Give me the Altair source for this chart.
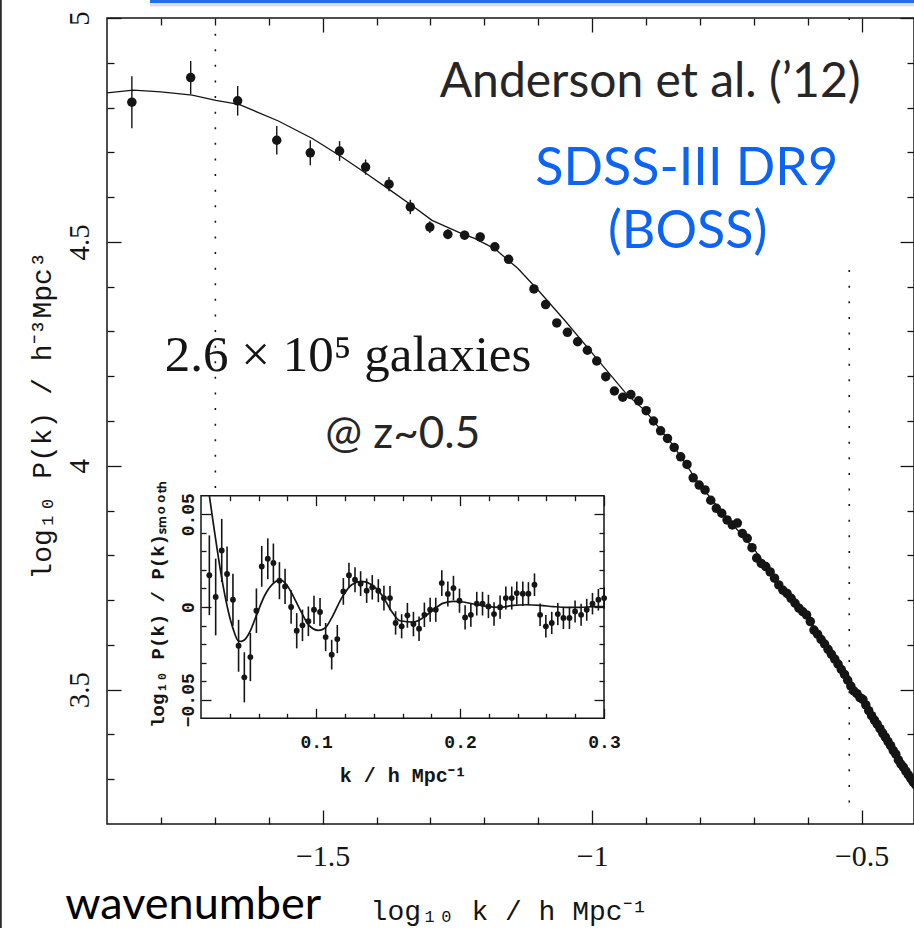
import altair as alt
import numpy as np
import pandas as pd

# ---------------- main panel data (log10 P(k) vs log10 k) ----------------
main_k = [0.014, 0.018, 0.022, 0.026, 0.030, 0.034, 0.038, 0.042, 0.046, 0.050,
          0.054, 0.058, 0.062, 0.066, 0.070, 0.078, 0.082, 0.086, 0.090, 0.094,
          0.098, 0.102, 0.106, 0.110, 0.114, 0.118, 0.122, 0.126, 0.130, 0.134,
          0.138, 0.142, 0.146, 0.150, 0.154, 0.158, 0.162, 0.166, 0.170, 0.174,
          0.178, 0.182, 0.186, 0.190, 0.194, 0.198, 0.202, 0.206, 0.210, 0.214,
          0.218, 0.222, 0.226, 0.230, 0.234, 0.238, 0.242, 0.246, 0.250, 0.254,
          0.258, 0.262, 0.266, 0.270, 0.274, 0.278, 0.282, 0.286, 0.290, 0.294,
          0.298, 0.302, 0.306, 0.310, 0.314, 0.318, 0.322, 0.326, 0.330, 0.334,
          0.338, 0.342, 0.346, 0.350, 0.354, 0.358, 0.362, 0.366, 0.370, 0.374,
          0.378, 0.382, 0.386, 0.390, 0.394, 0.398]
main_logp = [4.812, 4.867, 4.815, 4.727, 4.699, 4.703, 4.667, 4.629, 4.578, 4.533,
             4.517, 4.515, 4.511, 4.489, 4.461, 4.395, 4.360, 4.319, 4.298, 4.277,
             4.258, 4.234, 4.199, 4.167, 4.153, 4.159, 4.145, 4.123, 4.100, 4.078,
             4.061, 4.041, 4.020, 4.003, 3.973, 3.957, 3.946, 3.923, 3.905, 3.894,
             3.879, 3.868, 3.872, 3.849, 3.838, 3.817, 3.794, 3.782, 3.775, 3.763,
             3.749, 3.734, 3.722, 3.715, 3.704, 3.693, 3.682, 3.674, 3.667, 3.652,
             3.633, 3.624, 3.612, 3.602, 3.590, 3.579, 3.568, 3.557, 3.545, 3.534,
             3.521, 3.508, 3.497, 3.491, 3.482, 3.478, 3.466, 3.453, 3.442, 3.432,
             3.423, 3.413, 3.403, 3.394, 3.384, 3.375, 3.364, 3.356, 3.343, 3.334,
             3.327, 3.318, 3.310, 3.302, 3.294, 3.288]
main_err = [0.058, 0.037, 0.033, 0.032, 0.028, 0.022, 0.017, 0.016, 0.016, 0.013,
            0.011, 0.010, 0.010, 0.009, 0.009, 0.008, 0.008, 0.008, 0.007, 0.007,
            0.007, 0.007, 0.007, 0.006, 0.006, 0.006, 0.006, 0.006, 0.006, 0.006,
            0.006, 0.006, 0.005, 0.005, 0.005, 0.005, 0.005, 0.005, 0.005, 0.005,
            0.005, 0.005, 0.005, 0.005, 0.005, 0.005, 0.005, 0.005, 0.005, 0.005,
            0.005, 0.005, 0.005, 0.005, 0.005, 0.005, 0.005, 0.005, 0.005, 0.005,
            0.005, 0.004, 0.004, 0.004, 0.004, 0.004, 0.004, 0.004, 0.004, 0.004,
            0.004, 0.004, 0.004, 0.004, 0.004, 0.004, 0.004, 0.004, 0.004, 0.004,
            0.004, 0.004, 0.004, 0.004, 0.004, 0.004, 0.004, 0.004, 0.004, 0.004,
            0.004, 0.004, 0.004, 0.004, 0.004, 0.004]

model_logk = [-1.900, -1.851, -1.800, -1.742, -1.698, -1.655, -1.582, -1.519, -1.465,
              -1.417, -1.374, -1.333, -1.297, -1.243, -1.218, -1.181, -1.138, -1.100,
              -1.051, -0.989, -0.936, -0.900, -0.850, -0.800, -0.750, -0.700, -0.650,
              -0.600, -0.550, -0.500, -0.450, -0.400]
model_logp = [4.833, 4.839, 4.835, 4.828, 4.816, 4.807, 4.770, 4.731, 4.690,
              4.651, 4.615, 4.580, 4.548, 4.519, 4.508, 4.485, 4.441, 4.392,
              4.325, 4.236, 4.160, 4.121, 4.046, 3.957, 3.884, 3.815, 3.730,
              3.662, 3.568, 3.478, 3.384, 3.288]

# fit range markers (k = 0.02 and k = 0.3)
bound_k = [0.02, 0.3, 0.3]
bound_top = [4.965, 5.0, 4.437]
bound_bottom = [3.95, 4.984, 3.225]

# ---------------- inset data (BAO ratio vs k) ----------------
inset_k = [0.0258, 0.0302, 0.0344, 0.0381, 0.0422, 0.0461, 0.0501, 0.0543, 0.0585, 0.0622,
           0.0664, 0.0703, 0.0745, 0.0784, 0.0826, 0.0865, 0.0905, 0.0946, 0.0985, 0.1027,
           0.1066, 0.1108, 0.1147, 0.1189, 0.1228, 0.1270, 0.1309, 0.1351, 0.1390, 0.1432,
           0.1471, 0.1513, 0.1552, 0.1594, 0.1634, 0.1676, 0.1715, 0.1752, 0.1792, 0.1831,
           0.1873, 0.1915, 0.1954, 0.1996, 0.2035, 0.2075, 0.2116, 0.2156, 0.2197, 0.2236,
           0.2278, 0.2318, 0.2359, 0.2394, 0.2436, 0.2475, 0.2517, 0.2556, 0.2596, 0.2637,
           0.2679, 0.2718, 0.2760, 0.2799, 0.2841, 0.2880, 0.2920, 0.2961, 0.3001]
inset_v = [0.0171, 0.0054, 0.0305, 0.0178, 0.0039, -0.0209, -0.0379, -0.0270, -0.0020, 0.0219,
           0.0260, 0.0237, 0.0142, 0.0111, 0.0000, -0.0128, -0.0099, -0.0077, -0.0015, -0.0027,
           -0.0162, -0.0257, -0.0173, 0.0084, 0.0171, 0.0147, 0.0126, 0.0088, 0.0106, 0.0088,
           0.0048, 0.0048, -0.0086, -0.0104, -0.0045, -0.0092, -0.0117, -0.0042, -0.0015, -0.0015,
           0.0129, 0.0070, 0.0102, 0.0034, -0.0056, -0.0042, 0.0018, 0.0018, 0.0003, -0.0038,
           -0.0001, 0.0048, 0.0048, 0.0075, 0.0072, 0.0072, 0.0120, -0.0042, -0.0104, -0.0086,
           -0.0038, -0.0059, -0.0059, -0.0024, -0.0042, -0.0015, 0.0018, 0.0039, 0.0048]
inset_err = [0.0215, 0.0207, 0.0170, 0.0148, 0.0140, 0.0140, 0.0135, 0.0130, 0.0120, 0.0110,
             0.0110, 0.0105, 0.0100, 0.0095, 0.0090, 0.0095, 0.0085, 0.0080, 0.0076, 0.0076,
             0.0076, 0.0080, 0.0076, 0.0072, 0.0067, 0.0067, 0.0067, 0.0066, 0.0066, 0.0062,
             0.0067, 0.0065, 0.0063, 0.0065, 0.0067, 0.0066, 0.0066, 0.0066, 0.0065, 0.0065,
             0.0069, 0.0067, 0.0066, 0.0065, 0.0065, 0.0064, 0.0064, 0.0064, 0.0063, 0.0063,
             0.0063, 0.0062, 0.0062, 0.0062, 0.0066, 0.0062, 0.0061, 0.0061, 0.0061, 0.0060,
             0.0060, 0.0060, 0.0060, 0.0059, 0.0059, 0.0059, 0.0058, 0.0058, 0.0058]
inset_model_k = [0.0258, 0.0297, 0.0344, 0.0390, 0.0425, 0.0459, 0.0480, 0.0501, 0.0541, 0.0587,
                 0.0645, 0.0714, 0.0749, 0.0795, 0.0853, 0.0900, 0.0946, 0.1015, 0.1062, 0.1108,
                 0.1177, 0.1247, 0.1316, 0.1386, 0.1455, 0.1525, 0.1583, 0.1676, 0.1746, 0.1815,
                 0.1884, 0.1954, 0.2023, 0.2093, 0.2185, 0.2278, 0.2371, 0.2463, 0.2556, 0.2649,
                 0.2741, 0.2834, 0.2927, 0.3000]
inset_model_v = [0.0600, 0.0390, 0.0156, -0.0024, -0.0122, -0.0182, -0.0185, -0.0178, -0.0131, -0.0041,
                 0.0066, 0.0135, 0.0147, 0.0120, 0.0040, -0.0032, -0.0095, -0.0126, -0.0113, -0.0059,
                 0.0048, 0.0120, 0.0138, 0.0120, 0.0066, -0.0024, -0.0074, -0.0081, -0.0056, -0.0015,
                 0.0021, 0.0030, 0.0027, 0.0016, 0.0003, -0.0002, 0.0009, 0.0012, 0.0009, 0.0002,
                 -0.0002, -0.0002, 0.0002, 0.0002]

# ---------------- ticks ----------------
main_x_major = [-1.5, -1.0, -0.5]
main_x_minor = [-1.8, -1.7, -1.6, -1.4, -1.3, -1.2, -1.1, -0.9, -0.8, -0.7, -0.6]
main_y_major = [3.5, 4.0, 4.5, 5.0]
main_y_minor = [3.3, 3.4, 3.6, 3.7, 3.8, 3.9, 4.1, 4.2, 4.3, 4.4, 4.6, 4.7, 4.8, 4.9]
inset_x_major = [0.1, 0.2, 0.3]
inset_x_minor = [0.04, 0.06, 0.08, 0.12, 0.14, 0.16, 0.18, 0.22, 0.24, 0.26, 0.28]
inset_y_major = [-0.05, 0.0, 0.05]
inset_y_minor = [-0.04, -0.03, -0.02, -0.01, 0.01, 0.02, 0.03, 0.04]

texts = ["Anderson et al. (\u201912)", "SDSS-III DR9", "(BOSS)",
         "2.6 \u00d7 10\u2075 galaxies", "@ z~0.5", "wavenumber"]
main_x_title = "log\u2081\u2080 k / h Mpc\u207b\u00b9"
main_y_title = "log\u2081\u2080 P(k) / h\u207b\u00b3Mpc\u00b3"
inset_x_title = "k / h Mpc\u207b\u00b9"
inset_y_title = "log\u2081\u2080 P(k) / P(k)\u209b\u2098\u2092\u2092\u209c\u2095"

# ---------------- frames ----------------
W, H = 807, 806
INK = "#151515"
SERIF = "Liberation Serif"
MONO = "Liberation Mono"
SANS = "Lato"

df_main = pd.DataFrame({"lk": np.log10(main_k), "lp": main_logp})
df_main["lo"] = df_main["lp"] - np.array(main_err)
df_main["hi"] = df_main["lp"] + np.array(main_err)
df_model = pd.DataFrame({"lk": model_logk, "lp": model_logp})
df_bound = pd.DataFrame({"lk": np.log10(bound_k), "y1": bound_top, "y2": bound_bottom})

df_in = pd.DataFrame({"k": inset_k, "v": inset_v})
df_in["lo"] = df_in["v"] - np.array(inset_err)
df_in["hi"] = df_in["v"] + np.array(inset_err)
df_in_model = pd.DataFrame({"k": inset_model_k, "v": inset_model_v})
df_in_box = pd.DataFrame({"k1": [0.02], "k2": [0.3], "v1": [-0.06], "v2": [0.06]})

xs = alt.Scale(domain=[-1.9, -1.9 + W / 539.0], nice=False, zero=False)
ys = alt.Scale(domain=[3.2, 5.0], nice=False, zero=False)
xs_in = alt.Scale(domain=[0.02, 0.3], range=[94, 497], nice=False, zero=False)
ys_in = alt.Scale(domain=[-0.06, 0.06], range=[700.3, 477.7], nice=False, zero=False)


def tick_axis(orient, values, size, offset, z=0, **kw):
    return alt.Axis(orient=orient, values=values, tickSize=size, offset=offset,
                    domain=False, grid=False, ticks=True, tickColor=INK,
                    tickWidth=1.3, zindex=z, labelFlush=False, labelOverlap=False, **kw)


# ---------------- main panel ----------------
mb = alt.Chart(df_main)
main_bounds = alt.Chart(df_bound).mark_rule(
    color=INK, strokeWidth=1.6, strokeDash=[2, 13.6]
).encode(x=alt.X("lk:Q", scale=xs, axis=None), y=alt.Y("y1:Q", scale=ys, axis=None), y2="y2:Q")
main_line = alt.Chart(df_model).mark_line(color=INK, strokeWidth=1.3).encode(
    x=alt.X("lk:Q", scale=xs, axis=None), y=alt.Y("lp:Q", scale=ys, axis=None))
main_err_l = mb.mark_rule(color=INK, strokeWidth=1.4).encode(
    x=alt.X("lk:Q", scale=xs, axis=None), y=alt.Y("lo:Q", scale=ys, axis=None), y2="hi:Q")
main_pts = mb.mark_circle(color=INK, size=90, opacity=1).encode(
    x=alt.X("lk:Q", scale=xs, axis=None), y=alt.Y("lp:Q", scale=ys, axis=None))

ax_b_major = tick_axis("bottom", main_x_major, 14, -14, labels=True, format=".2~f",
                       labelFont=SERIF, labelFontSize=30, labelColor=INK,
                       labelBaseline="alphabetic", labelPadding=41,
                       title=main_x_title, titleFont=MONO, titleFontSize=28,
                       titleFontWeight="normal", titleColor=INK, titleX=402, titleY=109,
                       titleAlign="center", titleBaseline="alphabetic", titleAngle=0)
ax_l_major = tick_axis("left", main_y_major, 14, -14, labels=True, format=".1~f",
                       labelFont=SERIF, labelFontSize=29, labelColor=INK, labelAngle=270,
                       labelAlign="center", labelBaseline="alphabetic", labelPadding=19,
                       title=main_y_title, titleFont=MONO, titleFontSize=28,
                       titleFontWeight="normal", titleColor=INK, titleX=-71, titleY=397,
                       titleAlign="center", titleBaseline="alphabetic", titleAngle=270)
carriers_main = [
    mb.mark_point(opacity=0).encode(
        x=alt.X("lk:Q", scale=xs, axis=ax_b_major),
        y=alt.Y("lp:Q", scale=ys, axis=ax_l_major)),
    mb.mark_point(opacity=0).encode(
        x=alt.X("lk:Q", scale=xs, axis=tick_axis("bottom", main_x_minor, 7, -7, labels=False, title=None)),
        y=alt.Y("lp:Q", scale=ys, axis=tick_axis("left", main_y_minor, 7, -7, labels=False, title=None))),
    mb.mark_point(opacity=0).encode(
        x=alt.X("lk:Q", scale=xs, axis=tick_axis("top", main_x_major, 14, -14, labels=False, title=None)),
        y=alt.Y("lp:Q", scale=ys, axis=tick_axis("right", main_y_major, 14, -14, labels=False, title=None))),
    mb.mark_point(opacity=0).encode(
        x=alt.X("lk:Q", scale=xs, axis=tick_axis("top", main_x_minor, 7, -7, labels=False, title=None)),
        y=alt.Y("lp:Q", scale=ys, axis=tick_axis("right", main_y_minor, 7, -7, labels=False, title=None))),
]
main = alt.layer(main_bounds, main_line, main_err_l, main_pts, *carriers_main).resolve_axis(
    x="independent", y="independent")

# ---------------- inset ----------------
ib = alt.Chart(df_in)
in_box = alt.Chart(df_in_box).mark_rect(fill="white", stroke=INK, strokeWidth=1.5).encode(
    x=alt.X("k1:Q", scale=xs_in, axis=None), x2="k2:Q",
    y=alt.Y("v1:Q", scale=ys_in, axis=None), y2="v2:Q")
in_line = alt.Chart(df_in_model).mark_line(color=INK, strokeWidth=1.7, interpolate="monotone").encode(
    x=alt.X("k:Q", scale=xs_in, axis=None), y=alt.Y("v:Q", scale=ys_in, axis=None))
in_err_l = ib.mark_rule(color=INK, strokeWidth=1.6).encode(
    x=alt.X("k:Q", scale=xs_in, axis=None), y=alt.Y("lo:Q", scale=ys_in, axis=None), y2="hi:Q")
in_pts = ib.mark_circle(color=INK, size=34, opacity=1).encode(
    x=alt.X("k:Q", scale=xs_in, axis=None), y=alt.Y("v:Q", scale=ys_in, axis=None))

in_b_major = tick_axis("bottom", inset_x_major, 10, 700.3 - H - 10, z=1, labels=True, format=".1f",
                       labelFont=MONO, labelFontSize=18, labelFontWeight="bold", labelColor=INK,
                       labelBaseline="alphabetic", labelPadding=29,
                       title=inset_x_title, titleFont=MONO, titleFontSize=20,
                       titleFontWeight="bold", titleColor=INK, titleX=295.7, titleY=73,
                       titleAlign="center", titleBaseline="alphabetic", titleAngle=0)
in_l_major = tick_axis("left", inset_y_major, 10, -104, z=1, labels=True, format=".2~f",
                       labelFont=MONO, labelFontSize=18, labelFontWeight="bold", labelColor=INK,
                       labelAngle=270, labelAlign="center", labelBaseline="alphabetic",
                       labelPadding=8,
                       title=inset_y_title, titleFont=MONO, titleFontSize=19,
                       titleFontWeight="bold", titleColor=INK, titleX=-48, titleY=586,
                       titleAlign="center", titleBaseline="alphabetic", titleAngle=270)
carriers_in = [
    ib.mark_point(opacity=0).encode(
        x=alt.X("k:Q", scale=xs_in, axis=in_b_major),
        y=alt.Y("v:Q", scale=ys_in, axis=in_l_major)),
    ib.mark_point(opacity=0).encode(
        x=alt.X("k:Q", scale=xs_in, axis=tick_axis("bottom", inset_x_minor, 5, 700.3 - H - 5, z=1, labels=False, title=None)),
        y=alt.Y("v:Q", scale=ys_in, axis=tick_axis("left", inset_y_minor, 5, -99, z=1, labels=False, title=None))),
    ib.mark_point(opacity=0).encode(
        x=alt.X("k:Q", scale=xs_in, axis=tick_axis("top", inset_x_major, 10, -487.7, z=1, labels=False, title=None)),
        y=alt.Y("v:Q", scale=ys_in, axis=tick_axis("right", inset_y_major, 10, 487 - W, z=1, labels=False, title=None))),
    ib.mark_point(opacity=0).encode(
        x=alt.X("k:Q", scale=xs_in, axis=tick_axis("top", inset_x_minor, 5, -482.7, z=1, labels=False, title=None)),
        y=alt.Y("v:Q", scale=ys_in, axis=tick_axis("right", inset_y_minor, 5, 492 - W, z=1, labels=False, title=None))),
]
inset = alt.layer(in_box, in_line, in_err_l, in_pts, *carriers_in).resolve_axis(
    x="independent", y="independent")

# ---------------- annotations ----------------
def label(i, x, y, font, size, color, align="left", weight="normal"):
    return alt.Chart(pd.DataFrame({"t": [texts[i]]})).mark_text(
        font=font, fontSize=size, color=color, align=align, baseline="alphabetic",
        fontWeight=weight
    ).encode(text="t:N", x=alt.value(x), y=alt.value(y))

BLUE = "#0a64f5"
notes = [
    label(0, 332.7, 79.3, SANS, 48, "#262626"),
    label(1, 579.7, 167.3, SANS, 52, BLUE, align="center"),
    label(2, 580.7, 230.3, SANS, 52, BLUE, align="center"),
    label(3, 57.7, 353, SERIF, 51, INK),
    label(4, 295.7, 430.3, SANS, 44, "#262626", align="center"),
    label(5, 86.2, 901, SANS, 45, "#000000", align="center"),
]

one = pd.DataFrame({"d": [0]})
frame_bits = [
    alt.Chart(one).mark_rule(color="#cfcfcf", strokeWidth=4, opacity=0.7).encode(
        x=alt.value(43), x2=alt.value(W), y=alt.value(-13.5)),
    alt.Chart(one).mark_rule(color="#1f6fe8", strokeWidth=3).encode(
        x=alt.value(43), x2=alt.value(W), y=alt.value(-16.5)),
    alt.Chart(one).mark_rule(color="#2a2a2a", strokeWidth=2.2).encode(
        x=alt.value(-106.3), y=alt.value(-18), y2=alt.value(912)),
]

chart = alt.layer(main, inset, *notes, *frame_bits).resolve_scale(
    x="independent", y="independent"
).properties(
    width=W, height=H,
    autosize=alt.AutoSizeParams(type="none"),
    padding={"left": 107, "top": 18, "right": 0, "bottom": 104},
    background="white",
).configure_view(stroke=INK, strokeWidth=1.5)

chart.save("out.html", embed_options={"renderer": "svg", "actions": False})
